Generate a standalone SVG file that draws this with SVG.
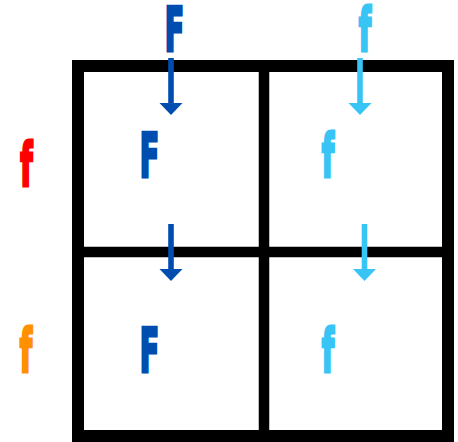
<svg xmlns="http://www.w3.org/2000/svg" width="458" height="442" viewBox="0 0 458 442">
<style>
.lbl{font-family:"DejaVu Sans Condensed","DejaVu Sans",sans-serif;font-weight:bold;font-size:30px;text-anchor:middle;stroke-width:1.6;stroke-linejoin:miter}
.dk{fill:#004DB0;stroke:#004DB0}
.lt{fill:#38C4F4;stroke:#38C4F4}
.rd{fill:#FF0000;stroke:#FF0000}
.or{fill:#FF9000;stroke:#FF9000}
.grid{fill:none;stroke:#000}
.shaft{stroke-width:5.6}
</style>
<rect width="458" height="442" fill="#fff"/>
<g id="grid">
<rect class="grid" x="78" y="66" width="370" height="370" stroke-width="12"/>
<line class="grid" x1="264" y1="66" x2="264" y2="436" stroke-width="10.5"/>
<line class="grid" x1="78" y1="252" x2="448" y2="252" stroke-width="10.5"/>
</g>
<g id="top-F"><text class="lbl dk" transform="translate(174.5,50.5) scale(1.05,2.0)">F</text></g>
<g id="top-f"><text class="lbl lt" transform="translate(365,50.5) scale(1.05,2.0)">f</text></g>
<g id="left-f-red"><text class="lbl rd" transform="translate(26.5,185.5) scale(1.05,2.0)">f</text></g>
<g id="left-f-orange"><text class="lbl or" transform="translate(26,371.5) scale(1.05,2.0)">f</text></g>
<g id="cell-1-1"><text class="lbl dk" transform="translate(149.5,176.5) scale(1.05,2.0)">F</text></g>
<g id="cell-1-2"><text class="lbl lt" transform="translate(328,176.5) scale(1.05,2.0)">f</text></g>
<g id="cell-2-1"><text class="lbl dk" transform="translate(149.5,371.5) scale(1.05,2.0)">F</text></g>
<g id="cell-2-2"><text class="lbl lt" transform="translate(328,371.5) scale(1.05,2.0)">f</text></g>
<g id="connectors">
<line class="shaft" x1="171" y1="58" x2="171" y2="104" stroke="#004DB0"/>
<polygon points="159.5,103 182.5,103 171,115" fill="#004DB0"/>
<line class="shaft" x1="360" y1="58" x2="360" y2="104" stroke="#38C4F4"/>
<polygon points="348.5,103 371.5,103 360,115" fill="#38C4F4"/>
<line class="shaft" x1="171" y1="224" x2="171" y2="270" stroke="#004DB0"/>
<polygon points="159.5,269 182.5,269 171,281" fill="#004DB0"/>
<line class="shaft" x1="364.5" y1="224" x2="364.5" y2="270" stroke="#38C4F4"/>
<polygon points="353,269 376,269 364.5,281" fill="#38C4F4"/>
</g>
</svg>
